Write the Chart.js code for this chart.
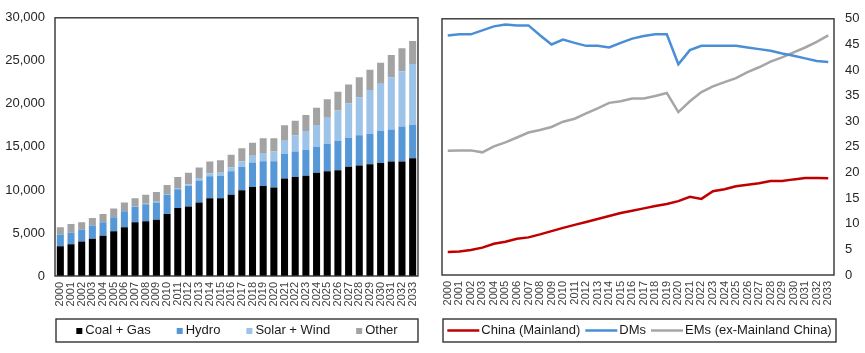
<!DOCTYPE html>
<html><head><meta charset="utf-8">
<script src="https://cdn.jsdelivr.net/npm/chart.js@4.4.0/dist/chart.umd.min.js"></script>
<style>
html,body{margin:0;padding:0;background:#fff;}
#wrap{position:relative;width:865px;height:353px;overflow:hidden;background:#fff;}
#c1{position:absolute;left:0;top:0;}
#c2{position:absolute;left:432px;top:0;}
</style></head><body>
<div id="wrap">
<canvas id="c1" width="432" height="353"></canvas>
<canvas id="c2" width="433" height="353"></canvas>
</div>
<script>
const years = ['2000','2001','2002','2003','2004','2005','2006','2007','2008','2009','2010','2011','2012','2013','2014','2015','2016','2017','2018','2019','2020','2021','2022','2023','2024','2025','2026','2027','2028','2029','2030','2031','2032','2033'];

const coalGas   = [3450,3680,4020,4330,4670,5210,5670,6250,6360,6550,7200,7900,8080,8540,9040,9040,9430,9960,10340,10460,10270,11340,11490,11650,11990,12180,12300,12680,12840,12990,13140,13290,13290,13680];
const hydro     = [1380,1340,1340,1530,1580,1610,1840,1800,1990,1990,2230,2180,2380,2570,2560,2600,2750,2720,2840,2870,3060,2840,2990,3020,3030,3180,3410,3370,3520,3520,3720,3720,4070,3870];
const solarWind = [0,0,0,0,10,10,20,30,50,80,100,150,200,280,350,450,460,610,800,960,1150,1530,1840,2190,2530,3030,3520,3990,4370,5100,5480,6060,6430,7080];
const other     = [840,1030,880,880,940,1020,1010,960,1030,1150,1040,1270,1340,1210,1350,1360,1460,1540,1500,1710,1520,1800,1730,1840,1990,2150,2190,2220,2370,2340,2450,2600,2680,2670];

const china = [4.50,4.57,4.89,5.34,6.11,6.50,7.08,7.34,7.92,8.56,9.20,9.78,10.36,10.94,11.52,12.10,12.55,13.00,13.45,13.84,14.41,15.25,14.86,16.34,16.73,17.31,17.63,17.89,18.34,18.34,18.66,18.92,18.92,18.86];
const dms   = [46.72,46.97,46.97,47.75,48.52,48.90,48.71,48.71,46.78,44.98,45.95,45.30,44.72,44.72,44.40,45.30,46.14,46.65,46.97,46.97,41.12,43.89,44.72,44.72,44.72,44.72,44.40,44.08,43.76,43.24,42.79,42.28,41.76,41.57];
const ems   = [24.26,24.32,24.32,23.94,25.10,25.87,26.83,27.80,28.31,28.89,29.92,30.50,31.53,32.50,33.59,33.91,34.43,34.43,34.95,35.52,31.79,33.91,35.71,36.81,37.64,38.42,39.58,40.54,41.63,42.47,43.44,44.40,45.50,46.78];

const leftTicks = [0,5000,10000,15000,20000,25000,30000];
const rightTicks = [0,5,10,15,20,25,30,35,40,45,50];

const FONT = '"Liberation Sans", Arial, Helvetica, sans-serif';
Chart.defaults.font.family = FONT;
Chart.defaults.font.size = 13;
Chart.defaults.color = '#262626';
Chart.defaults.animation = false;

const framePlugin = {
  id: 'frame',
  afterDatasetsDraw(chart) {
    const a = chart.chartArea, ctx = chart.ctx;
    ctx.save();
    ctx.strokeStyle = '#333';
    ctx.lineWidth = 1.4;
    ctx.strokeRect(a.left, a.top, a.right - a.left, a.bottom - a.top);
    ctx.restore();
  }
};

const boxLegend = {
  id: 'boxLegend',
  afterDraw(chart, args, o) {
    if (!o || !o.show) return;
    const ctx = chart.ctx, a = chart.chartArea;
    ctx.save();
    ctx.strokeStyle = '#333';
    ctx.lineWidth = 1.4;
    const bl = a.left + o.insetL, br = a.right + o.insetR;
    ctx.strokeRect(bl, o.top, br - bl, o.bottom - o.top);
    ctx.font = '13px ' + FONT;
    ctx.textBaseline = 'middle';
    const ds = chart.data.datasets;
    const isLine = o.marker === 'line';
    const mW = isLine ? 32 : 6, mG = isLine ? 2 : 3;
    const widths = ds.map(d => ctx.measureText(d.label).width);
    const total = widths.reduce((s, w) => s + w, 0) + ds.length * (mW + mG) + (ds.length - 1) * o.itemGap;
    let x = (bl + br) / 2 - total / 2;
    const cy = (o.top + o.bottom) / 2;
    ds.forEach((d, i) => {
      if (isLine) {
        ctx.strokeStyle = d.borderColor; ctx.lineWidth = 2.5;
        ctx.beginPath(); ctx.moveTo(x, cy); ctx.lineTo(x + mW, cy); ctx.stroke();
      } else {
        ctx.fillStyle = d.backgroundColor;
        ctx.fillRect(x, cy - 2.5, 6, 6);
      }
      x += mW + mG;
      ctx.fillStyle = '#1a1a1a';
      ctx.fillText(d.label, x, cy);
      x += widths[i] + o.itemGap;
    });
    ctx.restore();
  }
};

new Chart(document.getElementById('c1'), {
  type: 'bar',
  data: {
    labels: years,
    datasets: [
      { label: 'Coal + Gas', data: coalGas, backgroundColor: '#000000' },
      { label: 'Hydro', data: hydro, backgroundColor: '#5597d7' },
      { label: 'Solar + Wind', data: solarWind, backgroundColor: '#9dc3e8' },
      { label: 'Other', data: other, backgroundColor: '#a3a3a3' }
    ]
  },
  options: {
    responsive: false,
    devicePixelRatio: 1,
    layout: { padding: { top: 14, right: 10, left: 0, bottom: 0 } },
    datasets: { bar: { barPercentage: 0.66, categoryPercentage: 1.0, borderWidth: 0 } },
    plugins: {
      legend: { display: false },
      tooltip: { enabled: false },
      boxLegend: { show: true, marker: 'box', top: 319, bottom: 342, insetL: 1, insetR: 0, itemGap: 26 }
    },
    scales: {
      x: {
        stacked: true,
        offset: true,
        grid: { display: false, drawTicks: false },
        border: { display: false },
        ticks: { autoSkip: false, minRotation: 90, maxRotation: 90, padding: 6, font: { size: 11 }, color: '#404040' },
        afterFit(s) { s.height = 77; }
      },
      y: {
        stacked: true,
        min: 0, max: 30000,
        grid: { display: false, drawTicks: false },
        border: { display: false },
        afterBuildTicks(s) { s.ticks = leftTicks.map(v => ({ value: v })); },
        ticks: { padding: 10, callback: v => v.toLocaleString('en-US') },
        afterFit(s) { s.width = 55; }
      }
    }
  },
  plugins: [framePlugin, boxLegend]
});

new Chart(document.getElementById('c2'), {
  type: 'line',
  data: {
    labels: years,
    datasets: [
      { label: 'China (Mainland)', data: china, borderColor: '#c00000' },
      { label: 'DMs', data: dms, borderColor: '#4a8fd6' },
      { label: 'EMs (ex-Mainland China)', data: ems, borderColor: '#a6a6a6' }
    ]
  },
  options: {
    responsive: false,
    devicePixelRatio: 1,
    layout: { padding: { top: 14, right: 0, left: 10, bottom: 0 } },
    datasets: { line: { borderWidth: 2.5, pointRadius: 0, tension: 0, fill: false } },
    plugins: {
      legend: { display: false },
      tooltip: { enabled: false },
      boxLegend: { show: true, marker: 'line', top: 319, bottom: 342, insetL: 1, insetR: 2, itemGap: 5 }
    },
    scales: {
      x: {
        offset: true,
        grid: { display: false, drawTicks: false },
        border: { display: false },
        ticks: { autoSkip: false, minRotation: 90, maxRotation: 90, padding: 6, font: { size: 11 }, color: '#404040' },
        afterFit(s) { s.height = 78; }
      },
      y: {
        position: 'right',
        min: 0, max: 50,
        grid: { display: false, drawTicks: false },
        border: { display: false },
        afterBuildTicks(s) { s.ticks = rightTicks.map(v => ({ value: v })); },
        ticks: { padding: 11 },
        afterFit(s) { s.width = 31; }
      }
    }
  },
  plugins: [framePlugin, boxLegend]
});
</script>
</body></html>
